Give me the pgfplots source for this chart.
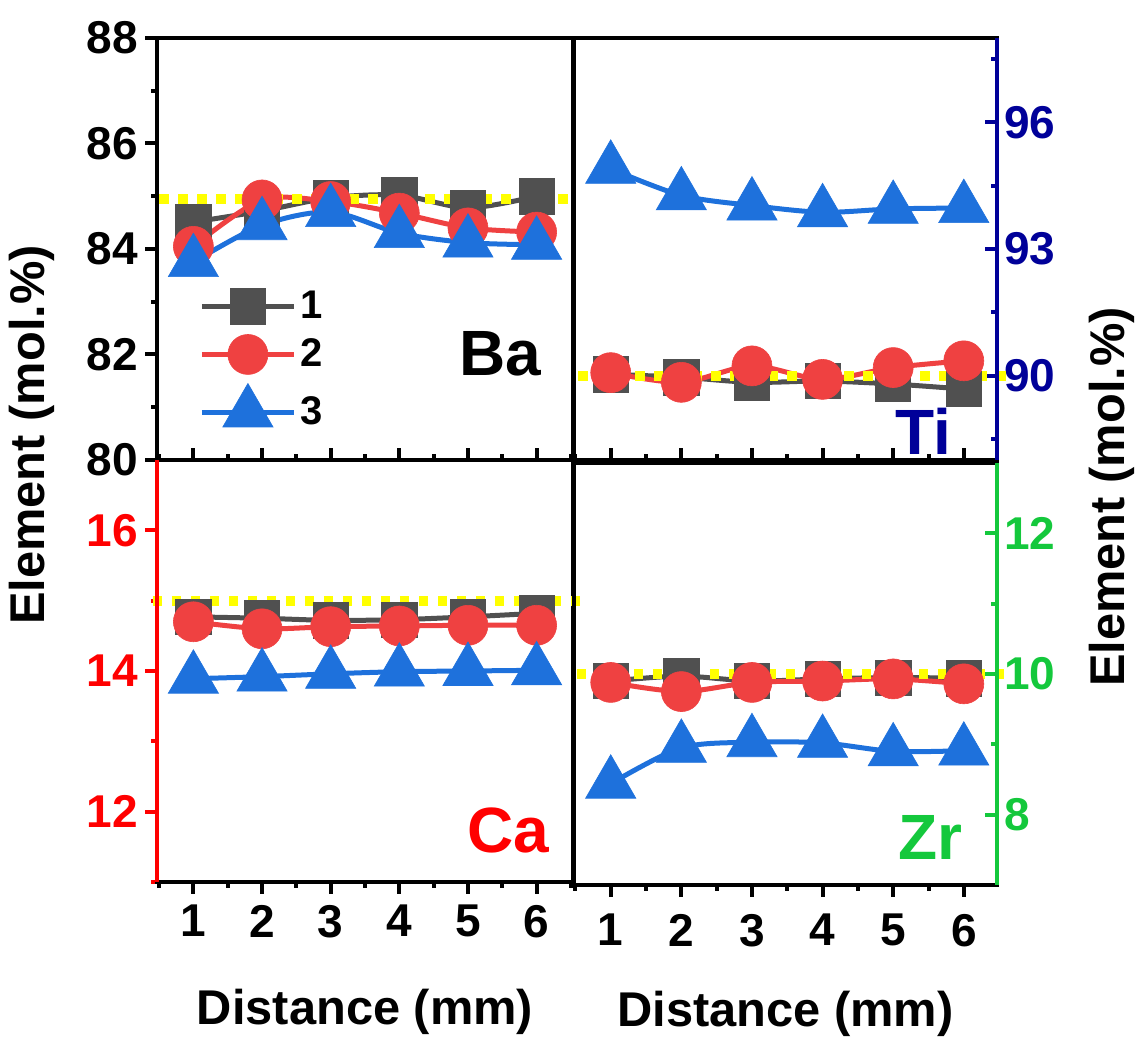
\documentclass[border=0pt]{standalone}
\usepackage{fontspec}
\setmainfont{Liberation Sans}
\usepackage{pgfplots}
\pgfplotsset{compat=1.18}

\definecolor{cgray}{RGB}{80,80,80}
\definecolor{cred}{RGB}{239,65,65}
\definecolor{cblue}{RGB}{30,113,220}
\definecolor{navy}{RGB}{0,0,153}
\definecolor{zgreen}{RGB}{20,200,60}
\definecolor{axred}{RGB}{255,0,0}
\definecolor{ylw}{RGB}{255,255,0}

\tikzset{lab/.style={inner sep=0pt, font=\fontsize{32}{32}\selectfont\bfseries}}
\pgfplotsset{
  panel/.style={
    scale only axis, width=208pt, height=211pt,
    clip=false,
    axis line style={line width=2pt},
    tick style={line width=2pt, black},
    major tick length=6pt, minor tick length=3pt,
    xtick={1,2,3,4,5,6}, minor xtick={0.5,1.5,2.5,3.5,4.5,5.5,6.5},
    xtick pos=bottom,
    ticklabel style={font=\fontsize{23}{23}\selectfont\bfseries},
    /pgf/number format/assume math mode=true,
  },
  s1/.style={cgray, line width=2.5pt, smooth, mark=square*, mark size=8.8pt, mark options={line width=0.3pt, fill=cgray}},
  s2/.style={cred, line width=2.5pt, smooth, mark=*, mark size=10pt, mark options={line width=0.3pt, fill=cred}},
  s3/.style={cblue, line width=2.5pt, smooth, mark=triangle*, mark size=14.5pt, mark options={line width=0.3pt, fill=cblue}},
  nom/.style={ylw, line width=5pt, dash pattern=on 4.75pt off 4.75pt, forget plot},
}

\begin{document}
\begin{tikzpicture}
\useasboundingbox (0,0) rectangle (568pt,518.5pt);

% Ba
\begin{axis}[panel, at={(78.5pt,288.5pt)}, anchor=south west,
  xmin=0.47, xmax=6.53, ymin=80, ymax=88,
  ytick={80,82,84,86,88}, minor ytick={81,83,85,87}, ytick pos=left,
  xtick align=inside, ytick align=outside, xticklabels={},
  legend style={at={(0.101,0.411)}, anchor=north west, draw=none, fill=none,
    font=\fontsize{20}{20}\selectfont\bfseries, row sep=4.5pt, inner sep=0pt,
    cells={anchor=west}},
  legend image code/.code={\draw[mark repeat=2,mark phase=2] plot coordinates {(0pt,0pt)(23pt,0pt)(46pt,0pt)};},
]
\addplot[s1] coordinates {(1,84.51)(2,84.72)(3,84.97)(4,85.02)(5,84.78)(6,85.0)};
\addlegendentry{1}
\addplot[s2] coordinates {(1,84.05)(2,84.93)(3,84.9)(4,84.68)(5,84.4)(6,84.32)};
\addlegendentry{2}
\addplot[s3] coordinates {(1,83.75)(2,84.45)(3,84.7)(4,84.3)(5,84.12)(6,84.08)};
\addlegendentry{3}
\addplot[nom] coordinates {(0.5,84.95)(6.56,84.95)};
\node[lab, anchor=base east] at (axis cs:6.07,81.6) {Ba};
\end{axis}

% Ti
\begin{axis}[panel, at={(287pt,288.5pt)}, anchor=south west,
  width=211.5pt,
  xmin=0.48, xmax=6.47, ymin=88, ymax=98,
  ytick={90,93,96}, minor ytick={88.5,91.5,94.5,97.5}, ytick pos=right, yticklabel pos=right,
  xtick align=inside, ytick align=inside, xticklabels={},
  yticklabel style={navy}, every y tick/.append style={navy},
]
\addplot[s1] coordinates {(1,90.03)(2,89.96)(3,89.84)(4,89.87)(5,89.80)(6,89.68)};
\addplot[s2] coordinates {(1,90.07)(2,89.84)(3,90.23)(4,89.91)(5,90.19)(6,90.35)};
\addplot[s3] coordinates {(1,94.9)(2,94.27)(3,94.03)(4,93.87)(5,93.95)(6,93.97)};
\addplot[nom] coordinates {(0.54,89.98)(6.64,89.98)};
\draw[navy, line width=2pt] (rel axis cs:1,0) -- (rel axis cs:1,1);
\node[lab, anchor=base east, navy] at (axis cs:5.83,88.14) {Ti};
\end{axis}

% Ca
\begin{axis}[panel, at={(78.5pt,77.5pt)}, anchor=south west,
  xmin=0.47, xmax=6.53, ymin=11, ymax=17,
  ytick={12,14,16}, minor ytick={11,13,15}, ytick pos=left,
  xtick align=outside, ytick align=outside,
  yticklabel style={axred}, every y tick/.append style={axred},
  xticklabel style={yshift=-2pt},
  xlabel={Distance (mm)},
  xlabel style={font=\fontsize{24.4}{24.4}\selectfont\bfseries, yshift=-19pt},
]
\addplot[s1] coordinates {(1,14.77)(2,14.75)(3,14.72)(4,14.73)(5,14.77)(6,14.82)};
\addplot[s2] coordinates {(1,14.70)(2,14.60)(3,14.63)(4,14.64)(5,14.65)(6,14.65)};
\addplot[s3] coordinates {(1,13.89)(2,13.92)(3,13.96)(4,13.99)(5,14.00)(6,14.01)};
\addplot[nom] coordinates {(0.41,15.0)(6.67,15.0)};
\draw[axred, line width=2pt] (rel axis cs:0,0) -- (rel axis cs:0,1);
\node[lab, anchor=base east, axred] at (axis cs:6.19,11.42) {Ca};
\end{axis}

% Zr
\begin{axis}[panel, at={(287pt,76pt)}, anchor=south west,
  width=211.5pt,
  xmin=0.48, xmax=6.47, ymin=7, ymax=13,
  ytick={8,10,12}, minor ytick={7,9,11,13}, ytick pos=right, yticklabel pos=right,
  xtick align=outside, ytick align=inside,
  yticklabel style={zgreen}, every y tick/.append style={zgreen},
  xticklabel style={yshift=-5pt},
  xlabel={Distance (mm)},
  xlabel style={font=\fontsize{24.4}{24.4}\selectfont\bfseries, yshift=-15.5pt},
]
\addplot[s1] coordinates {(1,9.90)(2,9.97)(3,9.90)(4,9.93)(5,9.95)(6,9.94)};
\addplot[s2] coordinates {(1,9.88)(2,9.75)(3,9.88)(4,9.90)(5,9.93)(6,9.86)};
\addplot[s3] coordinates {(1,8.44)(2,8.95)(3,9.03)(4,9.02)(5,8.90)(6,8.91)};
\addplot[nom] coordinates {(0.52,10.0)(6.6,10.0)};
\draw[zgreen, line width=2pt] (rel axis cs:1,0) -- (rel axis cs:1,1);
\node[lab, anchor=base east, zgreen] at (axis cs:5.98,7.36) {Zr};
\end{axis}

\node[rotate=90, font=\fontsize{24.4}{24.4}\selectfont\bfseries] at (16pt,301pt) {Element (mol.\%)};
\node[rotate=90, font=\fontsize{24.4}{24.4}\selectfont\bfseries] at (556pt,270pt) {Element (mol.\%)};
\end{tikzpicture}
\end{document}
